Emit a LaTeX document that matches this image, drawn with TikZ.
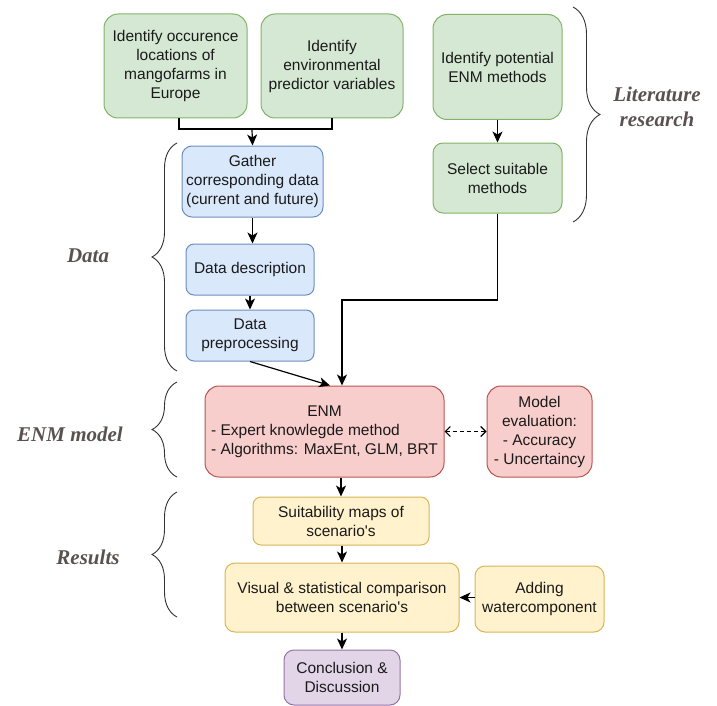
\documentclass[tikz,border=0pt]{standalone}
\usepackage{fontspec}
\setmainfont{Liberation Sans}
\newfontfamily\labelfont{Liberation Serif}
\usetikzlibrary{arrows.meta,decorations.pathreplacing,calc}
\definecolor{gfill}{HTML}{D5E8D4}\definecolor{gdraw}{HTML}{82B366}
\definecolor{bfill}{HTML}{DAE8FC}\definecolor{bdraw}{HTML}{6C8EBF}
\definecolor{rfill}{HTML}{F8CECC}\definecolor{rdraw}{HTML}{B85450}
\definecolor{yfill}{HTML}{FFF2CC}\definecolor{ydraw}{HTML}{D6B656}
\definecolor{pfill}{HTML}{E1D5E7}\definecolor{pdraw}{HTML}{9673A6}
\definecolor{txt}{HTML}{1A1A1A}
\definecolor{labcol}{HTML}{5A5250}
\definecolor{bracecol}{HTML}{333333}
\tikzset{
  box/.style={draw, line width=1pt, rounded corners=10pt, align=center, inner sep=0pt,
    font=\fontsize{15.5}{19}\selectfont, text=txt},
  grnbox/.style={box, fill=gfill, draw=gdraw},
  blubox/.style={box, fill=bfill, draw=bdraw},
  redbox/.style={box, fill=rfill, draw=rdraw},
  yelbox/.style={box, fill=yfill, draw=ydraw},
  purbox/.style={box, fill=pfill, draw=pdraw},
  arr/.style={-{Stealth[length=11pt,width=10pt,inset=3pt]}, line width=1.2pt, black},
  conn/.style={line width=1.2pt, black},
  brc/.style={decorate, decoration={brace, amplitude=25pt}, draw=bracecol, line width=0.9pt},
  lab/.style={font=\labelfont\bfseries\itshape\fontsize{21}{25}\selectfont, text=labcol, align=center}
}
\begin{document}
\begin{tikzpicture}[x=1pt,y=-1pt]
\useasboundingbox (0,0) rectangle (717,706);

% Literature boxes
\node[grnbox, rounded corners=14pt, minimum width=143pt, minimum height=104pt] (occ) at (175.5,66)
  {Identify occurence\\locations of\\mangofarms in\\Europe};
\node[grnbox, rounded corners=14pt, minimum width=142pt, minimum height=104pt] (env) at (332,66)
  {Identify\\environmental\\predictor variables};
\node[grnbox, rounded corners=14pt, minimum width=129pt, minimum height=105pt] (pot) at (497.5,67)
  {Identify potential\\ENM methods};
\node[grnbox, rounded corners=10pt, minimum width=129pt, minimum height=70pt] (sel) at (497.5,178)
  {Select suitable\\methods};

% Data boxes
\node[blubox, rounded corners=10pt, minimum width=141pt, minimum height=71pt] (gat) at (252.5,181.5)
  {Gather\\corresponding data\\(current and future)};
\node[blubox, rounded corners=8pt, minimum width=128pt, minimum height=51pt] (des) at (250,269.5)
  {Data description};
\node[blubox, rounded corners=8pt, minimum width=128pt, minimum height=51pt] (pre) at (250,335.5)
  {Data\\preprocessing};

% ENM
\node[redbox, rounded corners=14pt, minimum width=239pt, minimum height=91pt] (enm) at (324.5,431.5)
  {\begin{tabular}{@{}l@{}}\multicolumn{1}{@{}c@{}}{ENM}\\- Expert knowlegde method\\- Algorithms: MaxEnt, GLM, BRT\\ \end{tabular}};
\node[redbox, rounded corners=14pt, minimum width=105pt, minimum height=91pt] (eva) at (539.5,431.5)
  {Model\\evaluation:\\- Accuracy\\- Uncertaincy};

% Results
\node[yelbox, rounded corners=8pt, minimum width=176pt, minimum height=48pt] (sui) at (341,521)
  {Suitability maps of\\scenario\textquotesingle s};
\node[yelbox, rounded corners=10pt, minimum width=234pt, minimum height=69pt] (vis) at (342,597.5)
  {Visual \& statistical comparison\\between scenario\textquotesingle s};
\node[yelbox, rounded corners=10pt, minimum width=129pt, minimum height=66pt] (add) at (539.5,599)
  {Adding\\watercomponent};
\node[purbox, rounded corners=10pt, minimum width=116pt, minimum height=55pt] (con) at (342,677.5)
  {Conclusion \&\\Discussion};

% connectors
\coordinate (j) at (252,129);
\coordinate (bend) at (342,300);
\draw[conn] ([xshift=3.5pt]occ.south) |- (j);
\draw[conn] (env.south) |- (j);
\draw[arr] (j) -- (gat.north);
\draw[arr] (pot.south) -- (sel.north);
\draw[arr] (gat.south) -- (gat.south |- des.north);
\draw[arr] (des.south) -- (pre.north);
\draw[arr] (pre.south) -- ($(enm.north)+(5.5,0)$);
\draw[arr] (sel.south) |- (bend) -- (bend |- enm.north);
\draw[line width=1.1pt, {Straight Barb[length=5pt,width=10pt]}-{Straight Barb[length=5pt,width=10pt]}, dash pattern=on 4pt off 3pt]
  (enm.east) -- (eva.west);
\draw[arr] (sui.north |- enm.south) -- (sui.north);
\draw[arr] (vis.north |- sui.south) -- (vis.north);
\draw[arr] (add.west |- vis.east) -- (vis.east);
\draw[arr] (vis.south) -- (con.north);

% braces
\draw[brc, decoration={amplitude=27pt}] (573,7) -- (573,222);
\draw[brc] (177,371) -- (177,143);
\draw[brc] (177,477) -- (177,382);
\draw[brc] (177,617) -- (177,492);

% labels
\node[lab] (llit) at (657,107) {Literature\\research};
\node[lab] (ldat) at (88,256) {Data};
\node[lab] (lenm) at (70,434) {ENM model};
\node[lab] (lres) at (88,557) {Results};
\end{tikzpicture}
\end{document}
